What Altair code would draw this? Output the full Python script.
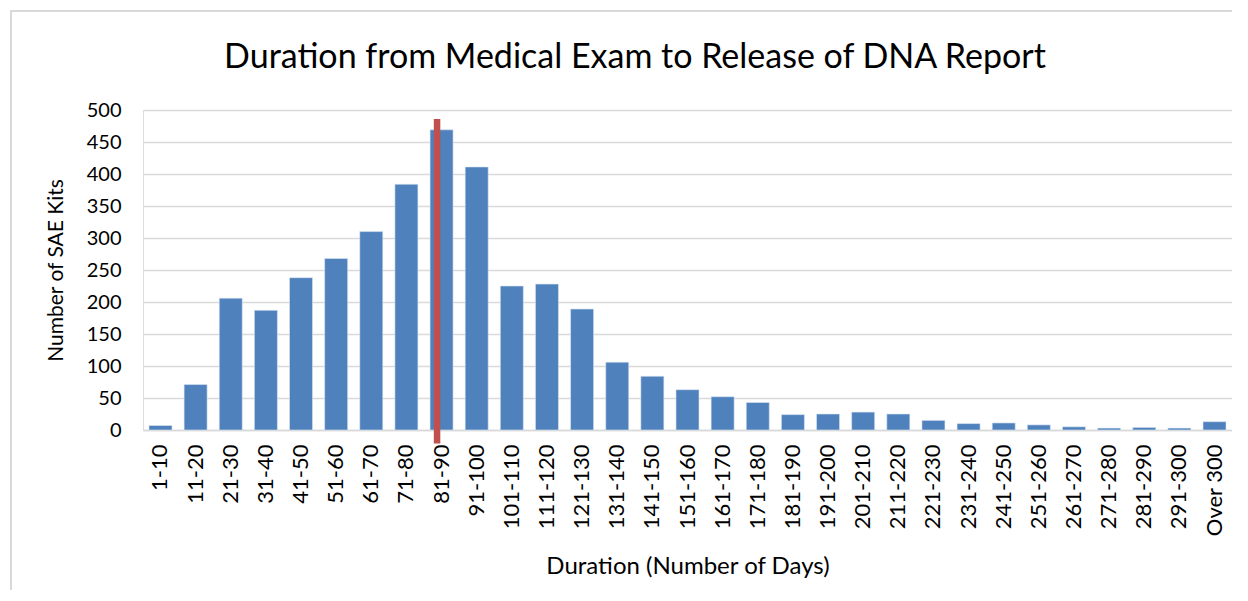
import altair as alt
import pandas as pd

categories = ["1-10", "11-20", "21-30", "31-40", "41-50", "51-60", "61-70", "71-80",
              "81-90", "91-100", "101-110", "111-120", "121-130", "131-140", "141-150",
              "151-160", "161-170", "171-180", "181-190", "191-200", "201-210", "211-220",
              "221-230", "231-240", "241-250", "251-260", "261-270", "271-280", "281-290",
              "291-300", "Over 300"]
kits = [7, 71, 206, 187, 238, 268, 310, 384, 469, 411, 225, 228, 189, 106, 84,
        63, 52, 43, 24, 25, 28, 25, 15, 10, 11, 8, 5, 3, 4, 3, 13]

marker_category = ["81-90"]
marker_top = [486]
marker_bottom = [-21]

y_ticks = [0, 50, 100, 150, 200, 250, 300, 350, 400, 450, 500]
title_text = ["Duration from Medical Exam to Release of DNA Report"]

df = pd.DataFrame({"cat": categories, "kits": kits})
mk = pd.DataFrame({"cat": marker_category, "top": marker_top, "bottom": marker_bottom})

FONT = "Lato"
TXT = "#000000"

x_axis = alt.Axis(title="Duration (Number of Days)", labelAngle=-90,
                  labelFontSize=22, labelFont=FONT, labelColor=TXT,
                  labelPadding=14, ticks=False, domain=True,
                  domainColor="#d9d9d9", domainWidth=1.5,
                  labelOverlap=False, grid=False,
                  titleFont=FONT, titleFontSize=24, titleFontWeight="normal",
                  titleColor=TXT, titlePadding=18)
y_axis = alt.Axis(title="Number of SAE Kits", values=y_ticks,
                  labelFontSize=20, labelFont=FONT, labelColor=TXT,
                  labelPadding=22, ticks=False, domain=False,
                  labelOverlap=False, grid=True,
                  gridColor="#d9d9d9", gridWidth=1.5,
                  titleFont=FONT, titleFontSize=21, titleFontWeight="normal",
                  titleColor=TXT, titlePadding=20)
x_scale = alt.Scale(paddingInner=0.345, paddingOuter=0.17)
y_scale = alt.Scale(domain=[0, 500], nice=False)

bars = alt.Chart(df).mark_bar(color="#4F81BD", stroke="#dce6f2", strokeWidth=0.6).encode(
    x=alt.X("cat:N", sort=categories, scale=x_scale, axis=x_axis),
    y=alt.Y("kits:Q", scale=y_scale, axis=y_axis),
)

rule = alt.Chart(mk).mark_rule(color="#C0504D", strokeWidth=6.5, xOffset=-4.5).encode(
    x=alt.X("cat:N", sort=categories, scale=x_scale, axis=x_axis),
    y=alt.Y("top:Q", scale=y_scale, axis=y_axis),
    y2=alt.Y2("bottom:Q"),
)

frame = alt.Chart(pd.DataFrame({"a": [0]})).mark_rect(
    filled=False, stroke="#d9d9d9", strokeWidth=2).encode(
    x=alt.value(-132), x2=alt.value(1300), y=alt.value(-99), y2=alt.value(700))

title = alt.Chart(pd.DataFrame({"t": title_text})).mark_text(
    font=FONT, fontSize=34, color=TXT, align="center", baseline="middle").encode(
    text="t:N", x=alt.value(492), y=alt.value(-52))

chart = alt.layer(bars, rule, frame, title).properties(
    width=1089, height=320,
    autosize=alt.AutoSizeParams(type="none"),
    padding={"left": 135, "top": 102, "right": 0, "bottom": 160},
).configure_view(stroke=None).configure(background="white")

chart.save("out.html", embed_options={"renderer": "svg", "actions": False})
